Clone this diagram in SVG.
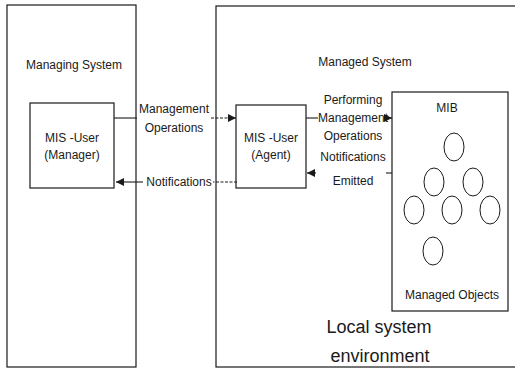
<svg xmlns="http://www.w3.org/2000/svg" width="515" height="369" viewBox="0 0 515 369">
<style>
.box{fill:none;stroke:#1a1a1a;stroke-width:1.2}
.t{font-family:"Liberation Sans",Arial,sans-serif;font-size:12px;fill:#1a1a1a;text-anchor:middle}
.big{font-size:18px}
.ln{stroke:#1a1a1a;stroke-width:1.1;fill:none}
.dl{stroke:#1a1a1a;stroke-width:1.1;fill:none;stroke-dasharray:3 1.5}
.obj{fill:none;stroke:#1a1a1a;stroke-width:1}
</style>
<defs>
<marker id="ah" viewBox="0 0 10 10" refX="10" refY="5" markerWidth="9" markerHeight="8" markerUnits="userSpaceOnUse" orient="auto">
<path d="M0,0 L10,5 L0,10 Z" fill="#1a1a1a"/>
</marker>
</defs>
<rect width="515" height="369" fill="#fff"/>
<g id="managing-system">
<rect class="box" x="7" y="5" width="129" height="362"/>
<text class="t" x="74" y="69">Managing System</text>
</g>
<g id="managed-system">
<rect class="box" x="216" y="6" width="310" height="361"/>
<text class="t" x="365" y="66">Managed System</text>
<text class="t big" x="379" y="333">Local system</text>
<text class="t big" x="380" y="362">environment</text>
</g>
<g id="manager">
<rect class="box" x="30" y="103" width="84" height="85"/>
<text class="t" x="72" y="142">MIS -User</text>
<text class="t" x="72" y="159">(Manager)</text>
</g>
<g id="agent">
<rect class="box" x="236" y="105" width="70" height="83"/>
<text class="t" x="271" y="142">MIS -User</text>
<text class="t" x="271" y="159">(Agent)</text>
</g>
<g id="mib">
<rect class="box" x="392" y="92" width="116" height="219"/>
<text class="t" x="447" y="112">MIB</text>
<ellipse class="obj" cx="454" cy="147" rx="10" ry="14"/>
<ellipse class="obj" cx="434" cy="182" rx="10" ry="14"/>
<ellipse class="obj" cx="473" cy="182" rx="10" ry="14"/>
<ellipse class="obj" cx="414" cy="210" rx="10" ry="14"/>
<ellipse class="obj" cx="452" cy="210" rx="10" ry="14"/>
<ellipse class="obj" cx="490" cy="210" rx="10" ry="14"/>
<ellipse class="obj" cx="433" cy="251" rx="10" ry="14"/>
<text class="t" x="452" y="299">Managed Objects</text>
</g>
<g id="connectors">
<line class="ln" x1="114" y1="118" x2="137" y2="118"/>
<line class="dl" x1="211" y1="118" x2="236" y2="118" marker-end="url(#ah)"/>
<text class="t" x="174" y="113">Management</text>
<text class="t" x="174" y="132">Operations</text>
<line class="dl" x1="237" y1="182" x2="213" y2="182"/>
<line class="ln" x1="143" y1="182" x2="116" y2="182" marker-end="url(#ah)"/>
<text class="t" x="179" y="186">Notifications</text>
<line class="ln" x1="306" y1="118" x2="318" y2="118"/>
<line class="ln" x1="387" y1="118" x2="392" y2="118" marker-end="url(#ah)"/>
<text class="t" x="353" y="104">Performing</text>
<text class="t" x="353" y="122">Management</text>
<text class="t" x="353" y="140">Operations</text>
<line class="ln" x1="392" y1="173" x2="386" y2="173"/>
<line class="ln" x1="316" y1="173" x2="307" y2="173" marker-end="url(#ah)"/>
<text class="t" x="353" y="161">Notifications</text>
<text class="t" x="353" y="185">Emitted</text>
</g>
</svg>
